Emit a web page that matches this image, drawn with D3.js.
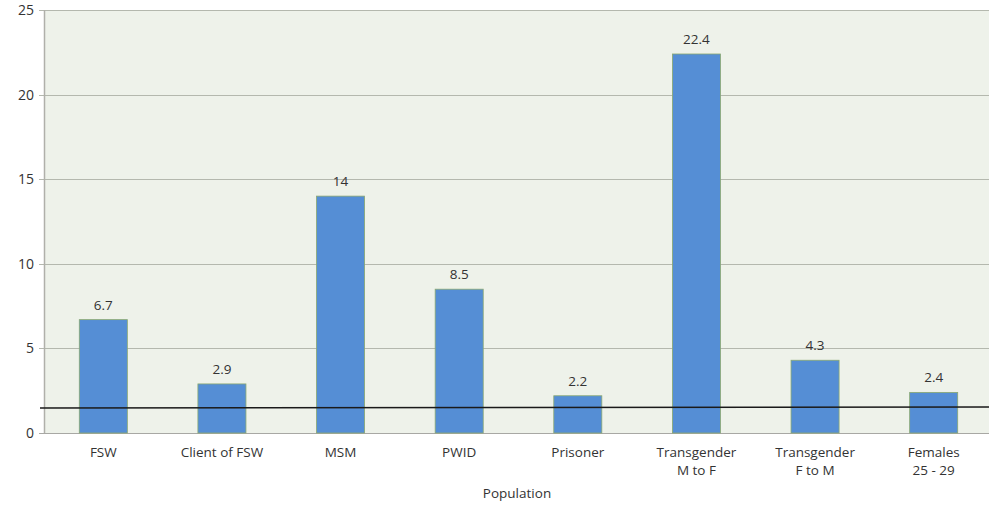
<!DOCTYPE html>
<html>
<head>
<meta charset="utf-8">
<script src="https://cdn.jsdelivr.net/npm/d3@7"></script>
<style>
  body { margin: 0; background: #fff; }
  text { font-family: "Open Sans", "Liberation Sans", sans-serif; fill: #333; }
</style>
</head>
<body>
<div id="chart"></div>
<script>
// data
var categories = ["FSW", "Client of FSW", "MSM", "PWID", "Prisoner", "Transgender\nM to F", "Transgender\nF to M", "Females\n25 - 29"];
var prevalence = [6.7, 2.9, 14, 8.5, 2.2, 22.4, 4.3, 2.4];
var valueLabels = ["6.7", "2.9", "14", "8.5", "2.2", "22.4", "4.3", "2.4"];
var yTicks = [0, 5, 10, 15, 20, 25];
// reference line, start and end value (drawn slightly tilted in the original)
var refLine = [1.48, 1.53];

var width = 989, height = 505;
var margin = {top: 10, right: -4, bottom: 72, left: 44};

var svg = d3.select("#chart").append("svg")
    .attr("width", width)
    .attr("height", height);

var x = d3.scaleBand()
    .domain(categories)
    .range([margin.left, width - margin.right])
    .paddingInner(0.595)
    .paddingOuter(0.2975);

var y = d3.scaleLinear()
    .domain([0, 25])
    .range([height - margin.bottom, margin.top]);

// plot background
svg.append("rect")
    .attr("x", margin.left)
    .attr("y", y(25))
    .attr("width", width - margin.left)
    .attr("height", y(0) - y(25))
    .attr("fill", "#eef2ea");

// gridlines + tick marks
svg.append("g")
    .selectAll("line")
    .data(yTicks)
    .join("line")
    .attr("x1", margin.left - 5)
    .attr("x2", width)
    .attr("y1", d => Math.round(y(d)) + 0.5)
    .attr("y2", d => Math.round(y(d)) + 0.5)
    .attr("stroke", d => d === 0 ? "#a8a8a4" : "#b4b8ae")
    .attr("stroke-width", 1.2);

svg.append("g")
    .selectAll("text")
    .data(yTicks)
    .join("text")
    .attr("x", margin.left - 10)
    .attr("y", d => y(d) + 5)
    .attr("text-anchor", "end")
    .style("font-size", "14px")
    .text(d => d);

// y axis line
svg.append("line")
    .attr("x1", margin.left + 0.5)
    .attr("x2", margin.left + 0.5)
    .attr("y1", y(25))
    .attr("y2", y(0))
    .attr("stroke", "#b0b0aa")
    .attr("stroke-width", 1.5);

// bars
svg.append("g")
    .selectAll("rect")
    .data(prevalence)
    .join("rect")
    .attr("x", (d, i) => x(categories[i]))
    .attr("y", d => y(d))
    .attr("width", x.bandwidth())
    .attr("height", d => y(0) - y(d))
    .attr("fill", "#558ed5")
    .attr("stroke", "#8aa870")
    .attr("stroke-width", 0.8);

// value labels
svg.append("g")
    .selectAll("text")
    .data(prevalence)
    .join("text")
    .attr("x", (d, i) => x(categories[i]) + x.bandwidth() / 2)
    .attr("y", d => y(d) - 10)
    .attr("text-anchor", "middle")
    .style("font-size", "13.5px")
    .text((d, i) => valueLabels[i]);

// reference line
svg.append("line")
    .attr("x1", margin.left - 4)
    .attr("x2", width)
    .attr("y1", y(refLine[0]))
    .attr("y2", y(refLine[1]))
    .attr("stroke", "#1a1a1a")
    .attr("stroke-width", 1.5);

// category labels
var cat = svg.append("g")
    .selectAll("text")
    .data(categories)
    .join("text")
    .attr("x", d => x(d) + x.bandwidth() / 2)
    .attr("y", y(0) + 24)
    .attr("text-anchor", "middle")
    .style("font-size", "13.5px");

cat.selectAll("tspan")
    .data(d => d.split("\n"))
    .join("tspan")
    .attr("x", function () { return d3.select(this.parentNode).attr("x"); })
    .attr("dy", (d, i) => i === 0 ? 0 : 18)
    .text(d => d);

// axis titles
svg.append("text")
    .attr("x", 517)
    .attr("y", 498)
    .attr("text-anchor", "middle")
    .style("font-size", "13.5px")
    .text("Population");

// y title is cut by the left edge in the original, only a faint sliver shows
svg.append("text")
    .attr("transform", "translate(-3,191) rotate(-90)")
    .attr("text-anchor", "middle")
    .style("font-size", "13.5px")
    .style("fill", "#ddd")
    .text("Prevalence (%)");
</script>
</body>
</html>
